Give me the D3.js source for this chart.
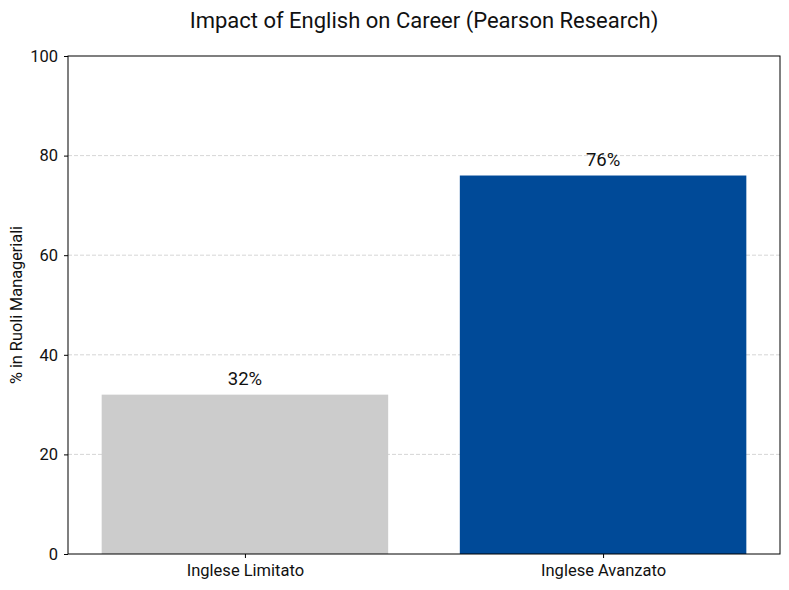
<!DOCTYPE html>
<html>
<head>
<meta charset="utf-8">
<script src="https://cdn.jsdelivr.net/npm/d3@7"></script>
<style>
  body { margin: 0; background: #fff; }
  svg text { font-family: Roboto, "Open Sans", sans-serif; fill: #111; }
</style>
</head>
<body>
<svg id="chart" width="789" height="590"></svg>
<script>
const categories = ["Inglese Limitato", "Inglese Avanzato"];
const values = [32, 76];
const barColors = ["#cccccc", "#004a98"];
const yTicks = [0, 20, 40, 60, 80, 100];

const svg = d3.select('#chart');
const margin = {top: 56, right: 9, bottom: 36, left: 68};
const innerWidth = 789 - margin.left - margin.right;
const innerHeight = 590 - margin.top - margin.bottom;

const g = svg.append('g').attr('transform', `translate(${margin.left}, ${margin.top})`);

// matplotlib-like positions: bar i centred at i, width 0.8
const xScale = d3.scaleLinear().domain([-0.494, 1.494]).range([0, innerWidth]);
const yScale = d3.scaleLinear().domain([0, 100]).range([innerHeight, 0]);

// grid
g.selectAll('.grid')
    .data(yTicks.filter(t => t > 0 && t < 100))
    .join('line')
    .attr('x1', 0).attr('x2', innerWidth)
    .attr('y1', d => yScale(d)).attr('y2', d => yScale(d))
    .attr('stroke', '#cccccc')
    .attr('stroke-width', 0.8)
    .attr('stroke-dasharray', '4,2');

// bars
g.selectAll('.bar')
    .data(values)
    .join('rect')
    .attr('x', (d, i) => xScale(i - 0.4))
    .attr('width', xScale(0.8) - xScale(0))
    .attr('y', d => yScale(d))
    .attr('height', d => innerHeight - yScale(d))
    .attr('fill', (d, i) => barColors[i]);

// value labels
g.selectAll('.val')
    .data(values)
    .join('text')
    .attr('x', (d, i) => xScale(i))
    .attr('y', d => yScale(d) - 10)
    .attr('text-anchor', 'middle')
    .attr('font-size', 18.5)
    .text(d => `${d}%`);

// axes
const yAxis = g.append('g')
    .call(d3.axisLeft(yScale).tickValues(yTicks).tickSize(4).tickPadding(6));
const xAxis = g.append('g')
    .attr('transform', `translate(0, ${innerHeight})`)
    .call(d3.axisBottom(xScale).tickValues([0, 1]).tickFormat(i => categories[i]).tickSize(4).tickPadding(6));

[xAxis, yAxis].forEach(a => {
    a.select('.domain').remove();
    a.selectAll('text').attr('font-size', 16.5).attr('fill', '#111');
    a.selectAll('line').attr('stroke', '#000');
});

// frame
g.append('rect')
    .attr('width', innerWidth).attr('height', innerHeight)
    .attr('fill', 'none').attr('stroke', '#000').attr('stroke-width', 1);

// titles
svg.append('text')
    .attr('x', margin.left + innerWidth / 2)
    .attr('y', 28)
    .attr('text-anchor', 'middle')
    .attr('font-size', 22)
    .text('Impact of English on Career (Pearson Research)');

svg.append('text')
    .attr('transform', `translate(22, ${margin.top + innerHeight / 2}) rotate(-90)`)
    .attr('text-anchor', 'middle')
    .attr('font-size', 16.3)
    .text('% in Ruoli Manageriali');
</script>
</body>
</html>
